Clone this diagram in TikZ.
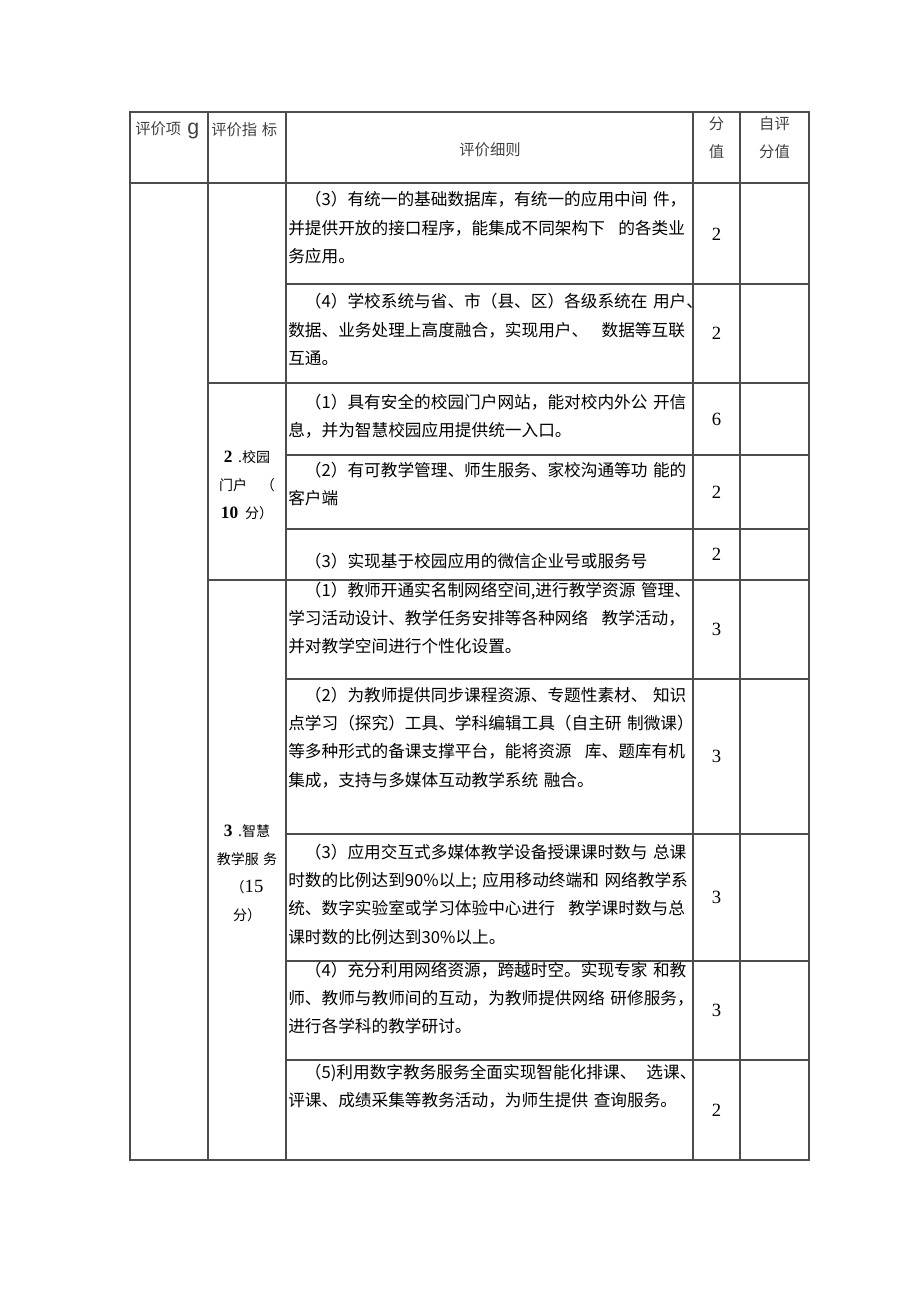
\documentclass[tikz,border=0pt]{standalone}
\usepackage{fontspec}
\newfontfamily\cjk{Noto Sans CJK SC}
\newfontfamily\numfont{Liberation Serif}
\newfontfamily\latinsans{Liberation Sans}
\usetikzlibrary{positioning}
\tikzset{
        rule/.style = {draw=black!70, line width=0.8pt},
        headtxt/.style = {inner sep=0pt, text=black!75, font=\cjk\fontsize{11.5}{21}\selectfont},
        indic/.style = {inner sep=0pt, align=center, font=\cjk\fontsize{10.5}{21}\selectfont},
        detail/.style = {anchor=base west, inner sep=0pt, text width=330pt, align=left,
                         font=\cjk\fontsize{12.5}{21.3}\selectfont},
        val/.style = {inner sep=0pt, font=\numfont\fontsize{14}{14}\selectfont},
    }
\newcommand{\bnum}[1]{{\numfont\bfseries\fontsize{13}{13}\selectfont #1}}

\begin{document}
\begin{tikzpicture}[x=0.75pt, y=-0.75pt]
    \useasboundingbox (0,0) rectangle (920,1301);

    % table rules
    \draw [rule] (130,112) rectangle (809,1160);
    \foreach \x in {208,286,693,740}
        \draw [rule] (\x,112) -- (\x,1160);
    \draw [rule] (130,183) -- (809,183);
    \foreach \y in {383,580}
        \draw [rule] (208,\y) -- (809,\y);
    \foreach \y in {284,455,529,679,834,961,1060}
        \draw [rule] (286,\y) -- (809,\y);

    % header
    \node [headtxt, anchor=west] (hitem) at (135,130) {评价项\hspace{0.4em}{\latinsans\fontsize{16}{16}\selectfont g}};
    \node [headtxt, anchor=west] (hindic) at (211,130) {评价指\hspace{0.3em}标};
    \node [headtxt] (hdetail) at (490,150) {评价细则};
    \node [headtxt, align=center] (hscore) at (716.5,138) {分\\值};
    \node [headtxt, align=center] (hself) at (774.5,138) {自评\\分值};

    % indicators
    \node [indic] (portal) at (247,485) {\bnum{2}\hspace{0.4em}.校园\\门户\hspace{1em}（\\\bnum{10}\hspace{0.5em}分）};
    \node [indic] (teach) at (247,873.5) {\bnum{3}\hspace{0.4em}.智慧\\教学服\hspace{0.3em}务\\（{\numfont\fontsize{14}{14}\selectfont 15}\\分）};

    % details
    \node [detail] (d1) at (288,206) {\hspace*{1em}（3）有统一的基础数据库，有统一的应用中间 件，\\
        并提供开放的接口程序，能集成不同架构下\hspace{0.8em}的各类业\\务应用。};
    \node [detail] (d2) at (288,308) {\hspace*{1em}（4）学校系统与省、市（县、区）各级系统在 用户、\\
        数据、业务处理上高度融合，实现用户、\hspace{0.8em}数据等互联\\互通。};
    \node [detail] (d3) at (288,408) {\hspace*{1em}（1）具有安全的校园门户网站，能对校内外公 开信\\
        息，并为智慧校园应用提供统一入口。};
    \node [detail] (d4) at (288,476) {\hspace*{1em}（2）有可教学管理、师生服务、家校沟通等功 能的\\客户端};
    \node [detail] (d5) at (288,567) {\hspace*{1em}（3）实现基于校园应用的微信企业号或服务号};
    \node [detail] (d6) at (288,596) {\hspace*{1em}（1）教师开通实名制网络空间,进行教学资源 管理、\\
        学习活动设计、教学任务安排等各种网络\hspace{0.8em}教学活动，\\并对教学空间进行个性化设置。};
    \node [detail] (d7) at (288,701) {\hspace*{1em}（2）为教师提供同步课程资源、专题性素材、 知识\\
        点学习（探究）工具、学科编辑工具（自主研 制微课）\\
        等多种形式的备课支撑平台，能将资源\hspace{0.8em}库、题库有机\\集成，支持与多媒体互动教学系统 融合。};
    \node [detail] (d8) at (288,858) {\hspace*{1em}（3）应用交互式多媒体教学设备授课课时数与 总课\\
        时数的比例达到90\%以上; 应用移动终端和 网络教学系\\
        统、数字实验室或学习体验中心进行\hspace{0.8em}教学课时数与总\\课时数的比例达到30\%以上。};
    \node [detail] (d9) at (288,976) {\hspace*{1em}（4）充分利用网络资源，跨越时空。实现专家 和教\\
        师、教师与教师间的互动，为教师提供网络 研修服务，\\进行各学科的教学研讨。};
    \node [detail] (d10) at (288,1078) {\hspace*{1em}（5)利用数字教务服务全面实现智能化排课、\hspace{0.6em}选课、\\
        评课、成绩采集等教务活动，为师生提供 查询服务。};

    % scores
    \node [val] (v1) at (716.5,234) {2};
    \node [val] (v2) at (716.5,333.5) {2};
    \node [val] (v3) at (716.5,419) {6};
    \node [val] (v4) at (716.5,492) {2};
    \node [val] (v5) at (716.5,554.5) {2};
    \node [val] (v6) at (716.5,629.5) {3};
    \node [val] (v7) at (716.5,756.5) {3};
    \node [val] (v8) at (716.5,897.5) {3};
    \node [val] (v9) at (716.5,1010.5) {3};
    \node [val] (v10) at (716.5,1110) {2};

\end{tikzpicture}
\end{document}
